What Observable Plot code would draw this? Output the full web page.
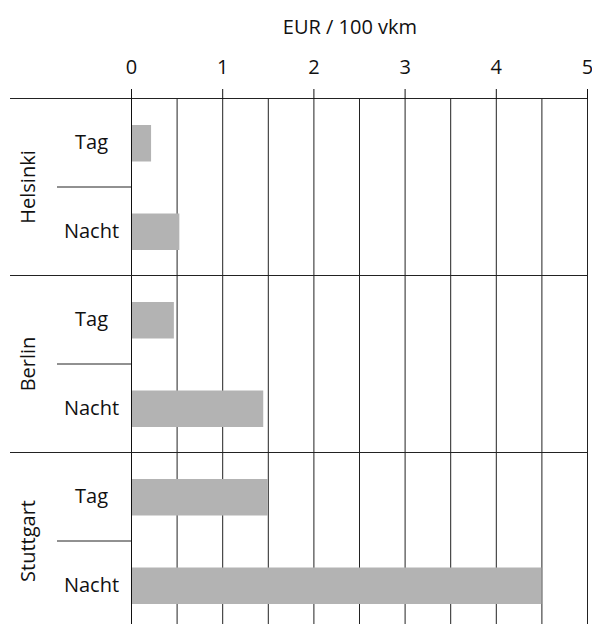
<!DOCTYPE html>
<html><head><meta charset="utf-8">
<script src="https://cdn.jsdelivr.net/npm/d3@7"></script>
<script src="https://cdn.jsdelivr.net/npm/@observablehq/plot@0.6"></script>
<style>body{margin:0;background:#fff}</style>
</head><body><div id="chart"></div>
<script>
const cities = ["Helsinki", "Berlin", "Stuttgart"];
const periods = ["Tag", "Nacht"];
const tagValues = [0.22, 0.47, 1.50];
const nachtValues = [0.53, 1.45, 4.50];
const xTicks = [0, 1, 2, 3, 4, 5];
const gridValues = [0, 0.5, 1, 1.5, 2, 2.5, 3, 3.5, 4, 4.5, 5];
const axisLabel = "EUR / 100 vkm";

const rows = cities.flatMap((city, i) => [
  {city, period: periods[0], value: tagValues[i], row: 2 * i},
  {city, period: periods[1], value: nachtValues[i], row: 2 * i + 1}
]);
const cityRows = cities.map((city, i) => ({city, mid: 2 * i + 1, top: 2 * i}));

const chart = Plot.plot({
  width: 592, height: 624,
  marginTop: 98, marginLeft: 10, marginRight: 5, marginBottom: 0,
  style: {fontFamily: "Open Sans", fontSize: "20px", color: "#111", background: "#fff"},
  x: {domain: [0, 5], range: [131, 587]},
  y: {domain: [0, 6], range: [98, 629], axis: null},
  marks: [
    Plot.ruleX(gridValues, {y1: 0, y2: 6, stroke: "#222", strokeWidth: 1}),
    Plot.rect(rows, {x1: 0, x2: "value", y1: "row", y2: d => d.row + 1, insetTop: 27, insetBottom: 25, fill: "#b3b3b3"}),
    Plot.ruleX([0], {y1: 0, y2: 6, stroke: "#111"}),
    Plot.ruleY(cityRows, {y: "top", stroke: "#222"}),
    Plot.ruleY(cityRows, {y: "mid", stroke: "#222", insetLeft: 47, insetRight: 456}),
    Plot.text(rows, {y: d => d.row + 0.5, text: "period", frameAnchor: "left", dx: 81, textAnchor: "middle", fill: "#111"}),
    Plot.text(cityRows, {y: "mid", text: "city", frameAnchor: "left", dx: 18, rotate: -90, textAnchor: "middle", fill: "#111"}),
    Plot.axisX({anchor: "top", ticks: xTicks, tickSize: 10, tickPadding: 15, tickFormat: d => String(d),
      label: null, stroke: "#111", fill: "#111"}),
    Plot.text([axisLabel], {frameAnchor: "top", lineAnchor: "middle", dx: 51, dy: -71, fontSize: 20, fill: "#111", text: d => d})
  ]
});
document.getElementById("chart").append(chart);
</script>
</body></html>
